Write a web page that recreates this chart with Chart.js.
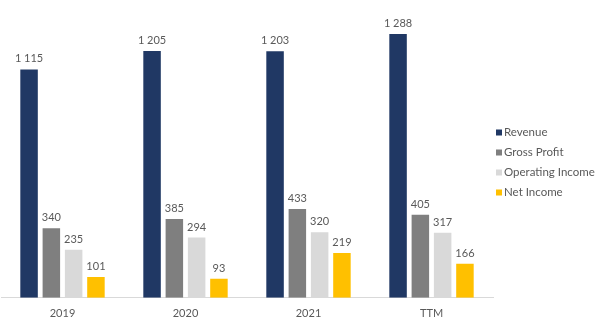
<!DOCTYPE html>
<html>
<head>
<meta charset="utf-8">
<script src="https://cdn.jsdelivr.net/npm/chart.js@4"></script>
<style>
html,body{margin:0;padding:0;background:#fff;}
#wrap{width:604px;height:335px;position:relative;}
</style>
</head>
<body>
<div id="wrap"><canvas id="c" width="604" height="335"></canvas></div>
<script>
const categories = ['2019', '2020', '2021', 'TTM'];
const revenue = [1115, 1205, 1203, 1288];
const grossProfit = [340, 385, 433, 405];
const operatingIncome = [235, 294, 320, 317];
const netIncome = [101, 93, 219, 166];
const seriesNames = ['Revenue', 'Gross Profit', 'Operating Income', 'Net Income'];
const seriesColors = ['#203864', '#7f7f7f', '#d9d9d9', '#ffc000'];

const FONT = 'Lato, "Open Sans", sans-serif';
const TEXT = '#595959';

function fmt(v){ return String(v).replace(/\B(?=(\d{3})+(?!\d))/g, ' '); }

const dataLabels = {
  id: 'dataLabels',
  afterDatasetsDraw(chart){
    const ctx = chart.ctx;
    ctx.save();
    ctx.font = '11px ' + FONT;
    ctx.fillStyle = TEXT;
    ctx.textAlign = 'center';
    ctx.textBaseline = 'bottom';
    chart.data.datasets.forEach((ds, i) => {
      const meta = chart.getDatasetMeta(i);
      meta.data.forEach((el, j) => {
        ctx.fillText(fmt(ds.data[j]), el.x, el.y - 5);
      });
    });
    ctx.restore();
  }
};

// Legend drawn to the right of the plot, from the datasets' own labels/colours
const sideLegend = {
  id: 'sideLegend',
  afterDraw(chart){
    const ctx = chart.ctx;
    const x0 = chart.chartArea.right + 3;
    const yStart = 132.5, step = 20;
    ctx.save();
    ctx.font = '11.5px ' + FONT;
    ctx.textBaseline = 'middle';
    ctx.textAlign = 'left';
    chart.data.datasets.forEach((ds, i) => {
      const y = yStart + i * step;
      ctx.fillStyle = ds.backgroundColor;
      ctx.fillRect(x0, y - 3, 6, 6);
      ctx.fillStyle = TEXT;
      ctx.fillText(ds.label, x0 + 8, y);
    });
    ctx.restore();
  }
};

const allSeries = [revenue, grossProfit, operatingIncome, netIncome];

new Chart(document.getElementById('c'), {
  type: 'bar',
  data: {
    labels: categories,
    datasets: allSeries.map((d, i) => ({
      label: seriesNames[i],
      data: d,
      backgroundColor: seriesColors[i],
      categoryPercentage: 0.725,
      barPercentage: 0.785
    }))
  },
  options: {
    responsive: false,
    animation: false,
    devicePixelRatio: 1,
    layout: { padding: { top: 11, left: 1, right: 111, bottom: 6 } },
    plugins: {
      legend: { display: false },
      tooltip: { enabled: false }
    },
    scales: {
      x: {
        grid: { display: false, drawTicks: false },
        border: { color: '#d9d9d9', width: 1 },
        ticks: { color: TEXT, font: { family: FONT, size: 11 }, padding: 9 }
      },
      y: {
        display: false,
        min: 0,
        max: 1400
      }
    }
  },
  plugins: [dataLabels, sideLegend]
});
</script>
</body>
</html>
